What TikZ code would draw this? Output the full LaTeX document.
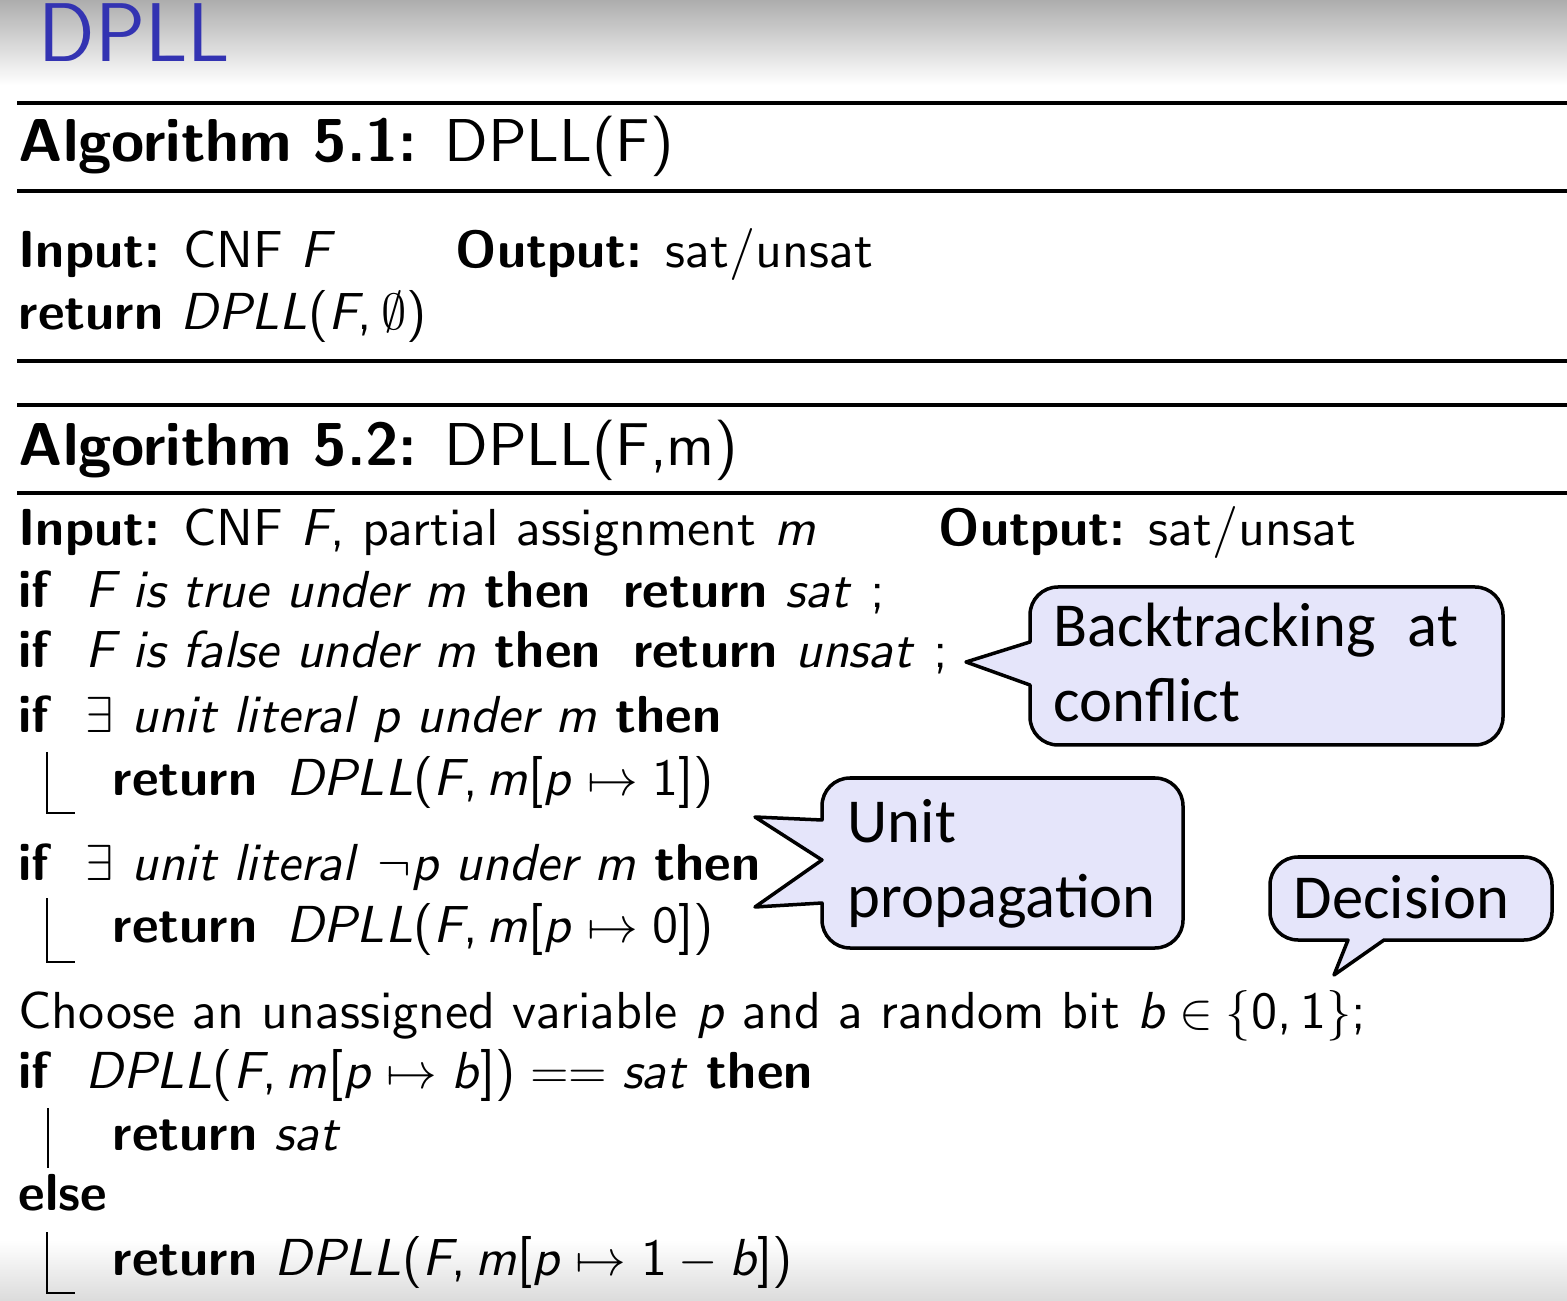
\documentclass[tikz,border=0pt]{standalone}
\usepackage{fontspec}
\newfontfamily\calloutfont{Carlito}
\DeclareFontFamily{OT1}{cmssten}{}
\DeclareFontShape{OT1}{cmssten}{m}{n}{<->cmss10}{}
\DeclareFontShape{OT1}{cmssten}{bx}{n}{<->cmssbx10}{}
\DeclareFontShape{OT1}{cmssten}{b}{n}{<->ssub*cmssten/bx/n}{}
\DeclareFontShape{OT1}{cmssten}{m}{it}{<->cmssi10}{}
\DeclareFontShape{OT1}{cmssten}{m}{sl}{<->cmssi10}{}
\newcommand{\algfont}{\fontencoding{OT1}\fontfamily{cmssten}\selectfont}
\definecolor{titleblue}{rgb}{0.2,0.2,0.7}
\definecolor{bubblefill}{rgb}{0.9,0.9,0.98}
\newcommand{\kw}[1]{\textbf{#1}}
\newcommand{\mv}[1]{\textit{#1}}
\newcommand{\mapto}{\hspace{0.28em}$\mapsto$\hspace{0.28em}}
\begin{document}
\begin{tikzpicture}[x=0.01cm,y=-0.01cm,
    algline/.style={anchor=base west,inner sep=0pt,font=\algfont\fontsize{14.8}{17}\selectfont},
    algtitle/.style={anchor=base west,inner sep=0pt,font=\algfont\fontsize{17.2}{20}\selectfont},
    rulebar/.style={line width=0.042cm},
    blockbar/.style={line width=0.022cm},
    bubble/.style={draw,fill=bubblefill,line width=0.035cm,line join=round},
    bubbletext/.style={anchor=base west,inner sep=0pt,align=left,font=\calloutfont\fontsize{17.8}{21.3}\selectfont}]
  \useasboundingbox (0,0) rectangle (1567,1301);
  % slide background and title
  \shade[top color=black!32,bottom color=white] (0,0) rectangle (1567,85);
  \shade[top color=white,bottom color=black!14] (0,1240) rectangle (1567,1301);
  \node[anchor=base west,inner sep=0pt,text=titleblue,font=\sffamily\fontsize{23.7}{28}\selectfont] (frametitle) at (38,62) {DPLL};

  % Algorithm 5.1
  \draw[rulebar] (17,103) -- (1567,103);
  \node[algtitle] (head1) at (18,162) {\kw{Algorithm 5.1:} DPLL(F)};
  \draw[rulebar] (17,191) -- (1567,191);
  \node[algline] (in1) at (18,268) {\kw{Input:} CNF \mv{F}};
  \node[algline] (out1) at (455,268) {\kw{Output:} sat/unsat};
  \node[algline] (ret1) at (18,330) {\kw{return} \mv{DPLL}(\mv{F},\,$\emptyset$)};
  \draw[rulebar] (17,361) -- (1567,361);

  % Algorithm 5.2
  \draw[rulebar] (17,405) -- (1567,405);
  \node[algtitle] (head2) at (18,466) {\kw{Algorithm 5.2:} DPLL(F,m)};
  \draw[rulebar] (17,493) -- (1567,493);
  \node[algline] (in2) at (18,546) {\kw{Input:} CNF \mv{F}, partial assignment \mv{m}};
  \node[algline] (out2) at (938,546) {\kw{Output:} sat/unsat};
  \node[algline] (truecase) at (18,608) {\kw{if}\hspace{0.62em}\mv{F is true under m} \kw{then}\hspace{0.62em}\kw{return} \mv{sat} ;};
  \node[algline] (falsecase) at (18,668) {\kw{if}\hspace{0.62em}\mv{F is false under m} \kw{then}\hspace{0.62em}\kw{return} \mv{unsat} ;};
  \node[algline] (unitpos) at (18,733) {\kw{if}\hspace{0.62em}$\exists$ \mv{unit literal p under m} \kw{then}};
  \node[algline] (retpos) at (112,795) {\kw{return}\hspace{0.55em}\mv{DPLL}(\mv{F},\,\mv{m}[\mv{p}\mapto 1])};
  \draw[blockbar] (47,752) -- (47,813) -- (75,813);
  \node[algline] (unitneg) at (18,880) {\kw{if}\hspace{0.62em}$\exists$ \mv{unit literal} $\neg$\mv{p under m} \kw{then}};
  \node[algline] (retneg) at (112,942) {\kw{return}\hspace{0.55em}\mv{DPLL}(\mv{F},\,\mv{m}[\mv{p}\mapto 0])};
  \draw[blockbar] (47,898) -- (47,962) -- (75,962);
  \node[algline] (choose) at (18,1028) {Choose an unassigned variable \mv{p} and a random bit \mv{b}\hspace{0.25em}$\in$\hspace{0.25em}$\{$0,\,1$\}$;};
  \node[algline] (ifdec) at (18,1088) {\kw{if}\hspace{0.62em}\mv{DPLL}(\mv{F},\,\mv{m}[\mv{p}\mapto\mv{b}])\hspace{0.28em}$==$\hspace{0.28em}\mv{sat} \kw{then}};
  \node[algline] (retsat) at (112,1150) {\kw{return} \mv{sat}};
  \draw[blockbar] (48,1108) -- (48,1168);
  \node[algline] (elsekw) at (18,1210) {\kw{else}};
  \node[algline] (retflip) at (112,1275) {\kw{return} \mv{DPLL}(\mv{F},\,\mv{m}[\mv{p}\mapto 1\hspace{0.22em}$-$\hspace{0.22em}\mv{b}])};
  \draw[blockbar] (47,1232) -- (47,1293) -- (75,1293);

  % callouts
  \draw[bubble] (1030,642) -- (966,662) -- (1030,685) -- (1030,717) .. controls (1030,732.5) and (1042.5,745) .. (1058,745) -- (1475,745) .. controls (1490.5,745) and (1503,732.5) .. (1503,717) -- (1503,615) .. controls (1503,599.5) and (1490.5,587) .. (1475,587) -- (1058,587) .. controls (1042.5,587) and (1030,599.5) .. (1030,615) -- cycle;
  \node[bubbletext,text width=4.04cm,align=justify] (backtrack) at (1053,647) {Backtracking at conflict};
  \draw[bubble] (822,820) -- (755,817) -- (822,860) -- (755,907) -- (822,903) -- (822,920) .. controls (822,935.5) and (834.5,948) .. (850,948) -- (1155,948) .. controls (1170.5,948) and (1183,935.5) .. (1183,920) -- (1183,806) .. controls (1183,790.5) and (1170.5,778) .. (1155,778) -- (850,778) .. controls (834.5,778) and (822,790.5) .. (822,806) -- cycle;
  \node[bubbletext] (unitprop) at (847,917) {Unit\\propagation};
  \draw[bubble] (1348,940) -- (1334,975) -- (1384,940) -- (1524,940) .. controls (1539.5,940) and (1552,927.5) .. (1552,912) -- (1552,885) .. controls (1552,869.5) and (1539.5,857) .. (1524,857) -- (1298,857) .. controls (1282.5,857) and (1270,869.5) .. (1270,885) -- (1270,912) .. controls (1270,927.5) and (1282.5,940) .. (1298,940) -- cycle;
  \node[bubbletext] (decision) at (1293,918) {Decision};
\end{tikzpicture}
\end{document}
